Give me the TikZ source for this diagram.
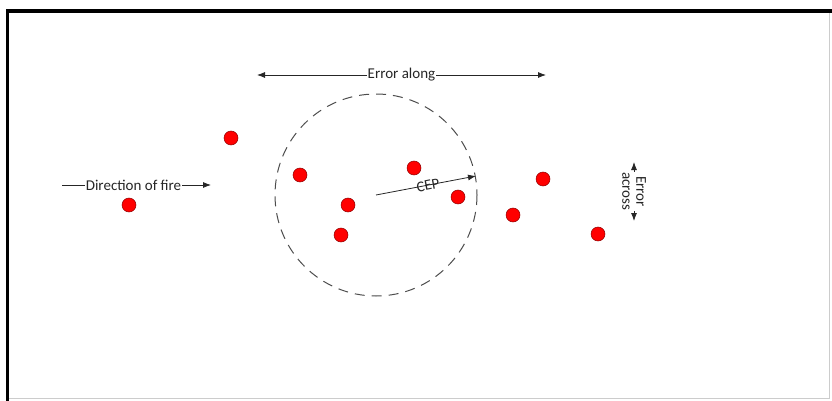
\documentclass[tikz,border=0pt]{standalone}
\usepackage{fontspec}
\setmainfont{Carlito}
\usetikzlibrary{arrows.meta}

\tikzset{
  shot/.style={circle,fill=red,draw=red!55!black,line width=0.5pt,inner sep=0pt,minimum size=14pt},
  lbl/.style={fill=white,inner sep=1pt,text=black!85,font=\fontsize{15}{14}\selectfont},
  arr/.style={-{Latex[length=8pt,width=6pt]},black!85,line width=0.8pt},
  twoarr/.style={arr,{Latex[length=8pt,width=6pt]}-{Latex[length=8pt,width=6pt]}},
}

\begin{document}
\begin{tikzpicture}[x=1pt,y=-1pt]
  \useasboundingbox (0,0) rectangle (832,401);
  % frame
  \draw[black!20,line width=0.8pt] (829,11) -- (829,398) -- (7,398);
  \draw[black,line width=3.5pt] (832,11) -- (7.5,11) -- (7.5,401);
  % shots
  \node[shot] (s1) at (231,138) {}; \node[shot] (s2) at (129,205) {};
  \node[shot] (s3) at (300,175) {}; \node[shot] (s4) at (348,205) {};
  \node[shot] (s5) at (341,235) {}; \node[shot] (s6) at (414,168) {};
  \node[shot] (s7) at (458,197) {}; \node[shot] (s8) at (513,215) {};
  \node[shot] (s9) at (543,179) {}; \node[shot] (s10) at (598,234) {};
  % CEP circle
  \coordinate (mpi) at (376,195); \coordinate (rim) at (476,176);
  \draw[dashed,dash pattern=on 10pt off 7pt,black!70,line width=1pt] (mpi) circle (101);
  \draw[arr] (mpi) -- node[lbl,fill=none,sloped,pos=0.52,inner sep=0pt] {CEP} (rim);
  % error along
  \coordinate (alongL) at (257,75); \coordinate (alongR) at (546,75);
  \draw[twoarr] (alongL) -- node[lbl] {Error along} (alongR);
  % direction of fire
  \coordinate (fireL) at (62,185); \coordinate (fireR) at (211,185);
  \draw[arr] (fireL) -- node[lbl,pos=0.48,inner sep=0.5pt] {Direction of fire} (fireR);
  % error across
  \coordinate (acrossT) at (634,162); \coordinate (acrossB) at (634,221);
  \draw[twoarr] (acrossT) -- node[lbl,rotate=-90,align=center,inner sep=0pt] {Error\\across} (acrossB);
\end{tikzpicture}
\end{document}
